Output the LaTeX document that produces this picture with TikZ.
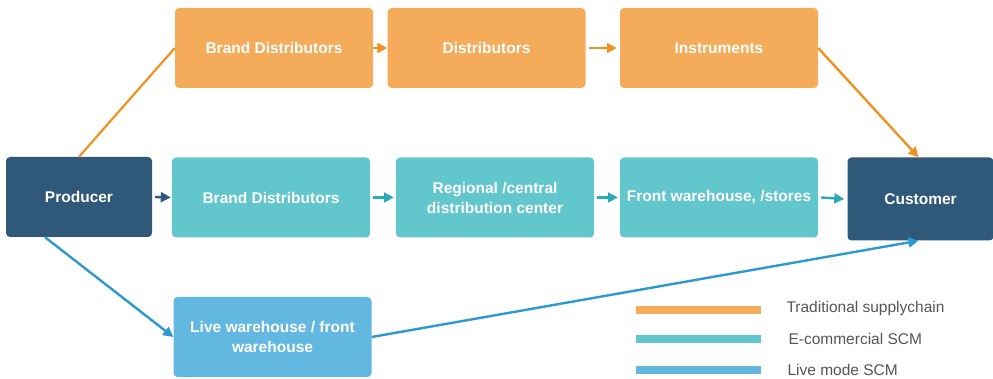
\documentclass[tikz,border=0pt]{standalone}
\usepackage{fontspec}
\setmainfont{Liberation Sans}
\usetikzlibrary{arrows.meta}
\definecolor{orgbox}{HTML}{F4AC5A}
\definecolor{orgline}{HTML}{F0921F}
\definecolor{tealbox}{HTML}{62C6CD}
\definecolor{tealline}{HTML}{2BA9B9}
\definecolor{darkbox}{HTML}{2F5879}
\definecolor{bluebox}{HTML}{63B8E1}
\definecolor{blueline}{HTML}{2B9AD3}
\definecolor{legtext}{HTML}{555555}
\tikzset{
  box/.style={rectangle, rounded corners=4pt, minimum width=198pt, minimum height=80pt,
    inner sep=1pt, text=white, font=\fontsize{15.5}{20}\selectfont\bfseries,
    align=center},
  obox/.style={box, fill=orgbox},
  tbox/.style={box, fill=tealbox},
  dbox/.style={box, fill=darkbox, minimum width=146pt},
  bbox/.style={box, fill=bluebox},
  conn/.style={line width=2.4pt, -{Triangle[length=10pt,width=10pt]}},
  legline/.style={line width=8pt},
  legtxt/.style={anchor=west, text=legtext, font=\fontsize{15.5}{18}\selectfont}
}
\begin{document}
\begin{tikzpicture}[x=1pt, y=-1pt]
\useasboundingbox (0,0) rectangle (993,379);
% top row: traditional supply chain
\node[obox] (obd)   at (274,48) {Brand Distributors};
\node[obox] (odist) at (486.5,48) {Distributors};
\node[obox] (oinst) at (719,48) {Instruments};
% middle row: e-commerce
\node[dbox] (prod)  at (79,197) {Producer};
\node[tbox] (tbd)   at (271,197.5) {Brand Distributors};
\node[tbox] (treg)  at (495,197.5) {Regional /central\\distribution center};
\node[tbox] (tfront) at (719,197.5) {Front warehouse, /stores};
\node[dbox, minimum height=83pt] (cust) at (920.5,199) {Customer};
% bottom: live mode
\node[bbox] (live)  at (272.5,337) {Live warehouse / front\\warehouse};
% traditional connectors
\draw[line width=2.2pt, orgline] (prod.north) -- (obd.west);
\draw[conn, orgline] (obd.east) -- (odist.west);
\draw[conn, orgline] ([xshift=3pt]odist.east) -- ([xshift=-3pt]oinst.west);
\draw[conn, orgline] (oinst.east) -- ([xshift=-2pt]cust.north);
% e-commerce connectors
\draw[conn, darkbox] ([xshift=3pt]prod.east) -- ([xshift=-1pt]tbd.west);
\draw[conn, tealline] ([xshift=3pt]tbd.east) -- ([xshift=-2pt]treg.west);
\draw[conn, tealline] ([xshift=3pt]treg.east) -- ([xshift=-2pt]tfront.west);
\draw[conn, tealline] ([xshift=3pt]tfront.east) -- ([xshift=-3pt]cust.west);
% live mode connectors
\draw[conn, blueline] ([xshift=-34pt]prod.south) -- (live.west);
\draw[conn, blueline] (live.east) -- ([xshift=-2pt]cust.south);
% legend
\coordinate (l1a) at (636,310); \coordinate (l1b) at (761,310);
\coordinate (l2a) at (636,339); \coordinate (l2b) at (761,339);
\coordinate (l3a) at (636,370); \coordinate (l3b) at (761,370);
\draw[legline, orgbox] (l1a) -- (l1b);
\draw[legline, tealbox] (l2a) -- (l2b);
\draw[legline, bluebox] (l3a) -- (l3b);
\node[legtxt] (lt1) at (783,308) {Traditional supplychain};
\node[legtxt] (lt2) at (785,339) {E-commercial SCM};
\node[legtxt] (lt3) at (784,370) {Live mode SCM};
\end{tikzpicture}
\end{document}
